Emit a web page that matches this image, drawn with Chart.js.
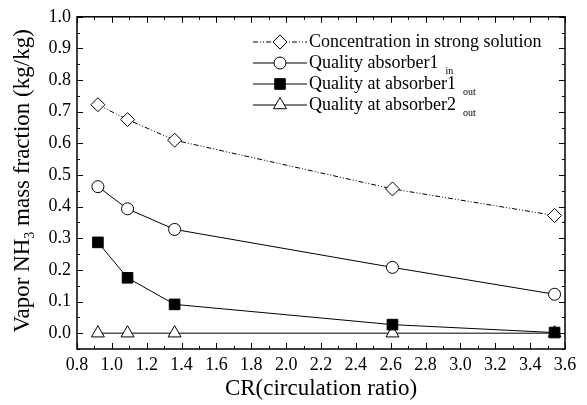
<!DOCTYPE html>
<html>
<head>
<meta charset="utf-8">
<script src="https://cdn.jsdelivr.net/npm/chart.js@4/dist/chart.umd.min.js"></script>
<style>
  html, body { margin: 0; padding: 0; background: #fff; }
  #wrap { width: 587px; height: 405px; position: relative; }
</style>
</head>
<body>
<div id="wrap"><canvas id="cr"></canvas></div>
<script>
// valores
const crValues = [0.92, 1.09, 1.36, 2.61, 3.54];
const strongSolution = [0.722, 0.675, 0.61, 0.456, 0.372];
const absorber1In = [0.463, 0.393, 0.328, 0.208, 0.123];
const absorber1Out = [0.287, 0.175, 0.091, 0.027, 0.002];
const absorber2Out = [0.0, 0.0, 0.0, 0.0, 0.0];

const xTicks = [0.8, 1.0, 1.2, 1.4, 1.6, 1.8, 2.0, 2.2, 2.4, 2.6, 2.8, 3.0, 3.2, 3.4, 3.6];
const yTicks = [0.0, 0.1, 0.2, 0.3, 0.4, 0.5, 0.6, 0.7, 0.8, 0.9, 1.0];

const FONT = '"Liberation Serif", "Times New Roman", serif';

function pts(ys) {
  return crValues.map((x, i) => ({ x: x, y: ys[i] }));
}

// leyenda con subíndices
const legendItems = [
  { text: 'Concentration in strong solution', sub: '', style: 'rectRot', fill: '#fff', dash: [5, 2, 1, 2, 1, 2], r: 7 },
  { text: 'Quality absorber1', sub: 'in', style: 'circle', fill: '#fff', dash: [], r: 6 },
  { text: 'Quality at absorber1', sub: 'out', style: 'rect', fill: '#000', dash: [], r: 7.5 },
  { text: 'Quality at absorber2', sub: 'out', style: 'triangle', fill: '#fff', dash: [], r: 7.5 },
];

const framePlugin = {
  id: 'frame',
  afterDraw(chart) {
    const ctx = chart.ctx;
    const a = chart.chartArea;
    const xs = chart.scales.x, ys = chart.scales.y;
    ctx.save();
    ctx.strokeStyle = '#000';
    ctx.lineWidth = 1.5;
    ctx.strokeRect(a.left, a.top, a.right - a.left, a.bottom - a.top);
    ctx.lineWidth = 1;
    ctx.beginPath();
    // ticks hacia adentro en los cuatro lados
    for (let v = 0.8; v <= 3.601; v += 0.1) {
      const px = Math.round(xs.getPixelForValue(v)) + 0.5;
      const major = Math.round(v * 10) % 2 === 0;
      const len = major ? 6 : 3;
      ctx.moveTo(px, a.bottom); ctx.lineTo(px, a.bottom - len);
      ctx.moveTo(px, a.top); ctx.lineTo(px, a.top + len);
    }
    for (let v = -0.05; v <= 1.001; v += 0.05) {
      const py = Math.round(ys.getPixelForValue(v)) + 0.5;
      const major = Math.abs(Math.round(v * 20)) % 2 === 0;
      const len = major ? 6 : 3;
      ctx.moveTo(a.left, py); ctx.lineTo(a.left + len, py);
      ctx.moveTo(a.right, py); ctx.lineTo(a.right - len, py);
    }
    ctx.stroke();

    // título del eje Y con subíndice
    ctx.fillStyle = '#000';
    ctx.translate(23, (a.top + a.bottom) / 2 - 2);
    ctx.rotate(-Math.PI / 2);
    ctx.textBaseline = 'middle';
    const big = '23px ' + FONT, small = '14px ' + FONT;
    const parts = [['Vapor NH', big, 0], ['3', small, 7], [' mass fraction (kg/kg)', big, 0]];
    let total = 0;
    parts.forEach(p => { ctx.font = p[1]; total += ctx.measureText(p[0]).width; });
    let x = -total / 2;
    parts.forEach(p => {
      ctx.font = p[1];
      ctx.fillText(p[0], x, p[2]);
      x += ctx.measureText(p[0]).width;
    });
    ctx.restore();

    // leyenda
    ctx.save();
    ctx.textBaseline = 'middle';
    ctx.fillStyle = '#000';
    legendItems.forEach((it, i) => {
      const y = 42 + i * 21;
      ctx.strokeStyle = '#000';
      ctx.lineWidth = 1;
      ctx.setLineDash(it.dash);
      ctx.beginPath();
      ctx.moveTo(253, y); ctx.lineTo(307, y);
      ctx.stroke();
      ctx.setLineDash([]);
      ctx.fillStyle = it.fill;
      Chart.helpers.drawPoint(ctx, { pointStyle: it.style, radius: it.r, borderWidth: 1, rotation: 0 }, 280, y);
      ctx.fillStyle = '#000';
      ctx.font = '18px ' + FONT;
      ctx.fillText(it.text, 309, y);
      if (it.sub) {
        const w = ctx.measureText(it.text).width;
        ctx.font = '10px ' + FONT;
        ctx.fillText(it.sub, 309 + w + 7, y + 8);
      }
    });
    ctx.restore();
  }
};

new Chart(document.getElementById('cr'), {
  type: 'scatter',
  data: {
    datasets: [
      {
        label: 'Concentration in strong solution',
        data: pts(strongSolution),
        showLine: true,
        borderColor: '#000',
        borderWidth: 1,
        borderDash: [5, 2, 1, 2, 1, 2],
        pointStyle: 'rectRot',
        pointRadius: 7,
        pointBackgroundColor: '#fff',
        pointBorderColor: '#000',
        pointBorderWidth: 1,
      },
      {
        label: 'Quality absorber1 in',
        data: pts(absorber1In),
        showLine: true,
        borderColor: '#000',
        borderWidth: 1,
        pointStyle: 'circle',
        pointRadius: 6,
        pointBackgroundColor: '#fff',
        pointBorderColor: '#000',
        pointBorderWidth: 1,
      },
      {
        label: 'Quality at absorber1 out',
        data: pts(absorber1Out),
        showLine: true,
        borderColor: '#000',
        borderWidth: 1,
        pointStyle: 'rect',
        pointRadius: 7.5,
        pointBackgroundColor: '#000',
        pointBorderColor: '#000',
        pointBorderWidth: 1,
      },
      {
        label: 'Quality at absorber2 out',
        data: pts(absorber2Out),
        showLine: true,
        borderColor: '#000',
        borderWidth: 1,
        pointStyle: 'triangle',
        pointRadius: 7.5,
        pointBackgroundColor: '#fff',
        pointBorderColor: '#000',
        pointBorderWidth: 1,
      },
    ],
  },
  options: {
    responsive: true,
    maintainAspectRatio: false,
    animation: false,
    layout: { padding: { top: 15, right: 22, left: 0, bottom: 0 } },
    plugins: {
      legend: { display: false },
      tooltip: { enabled: false },
    },
    scales: {
      x: {
        type: 'linear',
        min: 0.8,
        max: 3.6,
        afterBuildTicks: (s) => { s.ticks = xTicks.map(v => ({ value: v })); },
        afterFit: (s) => { s.height = 56; },
        grid: { display: false, drawTicks: false },
        border: { display: false },
        ticks: {
          color: '#000',
          padding: 5,
          font: { family: FONT, size: 18 },
          maxRotation: 0,
          callback: (v) => v.toFixed(1),
        },
        title: {
          display: true,
          text: 'CR(circulation ratio)',
          color: '#000',
          font: { family: FONT, size: 23 },
          padding: { top: 0, bottom: 2 },
        },
      },
      y: {
        type: 'linear',
        min: -0.05,
        max: 1.0,
        afterBuildTicks: (s) => { s.ticks = yTicks.map(v => ({ value: v })); },
        afterFit: (s) => { s.width = 77; },
        grid: { display: false, drawTicks: false },
        border: { display: false },
        ticks: {
          color: '#000',
          padding: 6,
          font: { family: FONT, size: 18 },
          callback: (v) => v.toFixed(1),
        },
      },
    },
  },
  plugins: [framePlugin],
});
</script>
</body>
</html>
